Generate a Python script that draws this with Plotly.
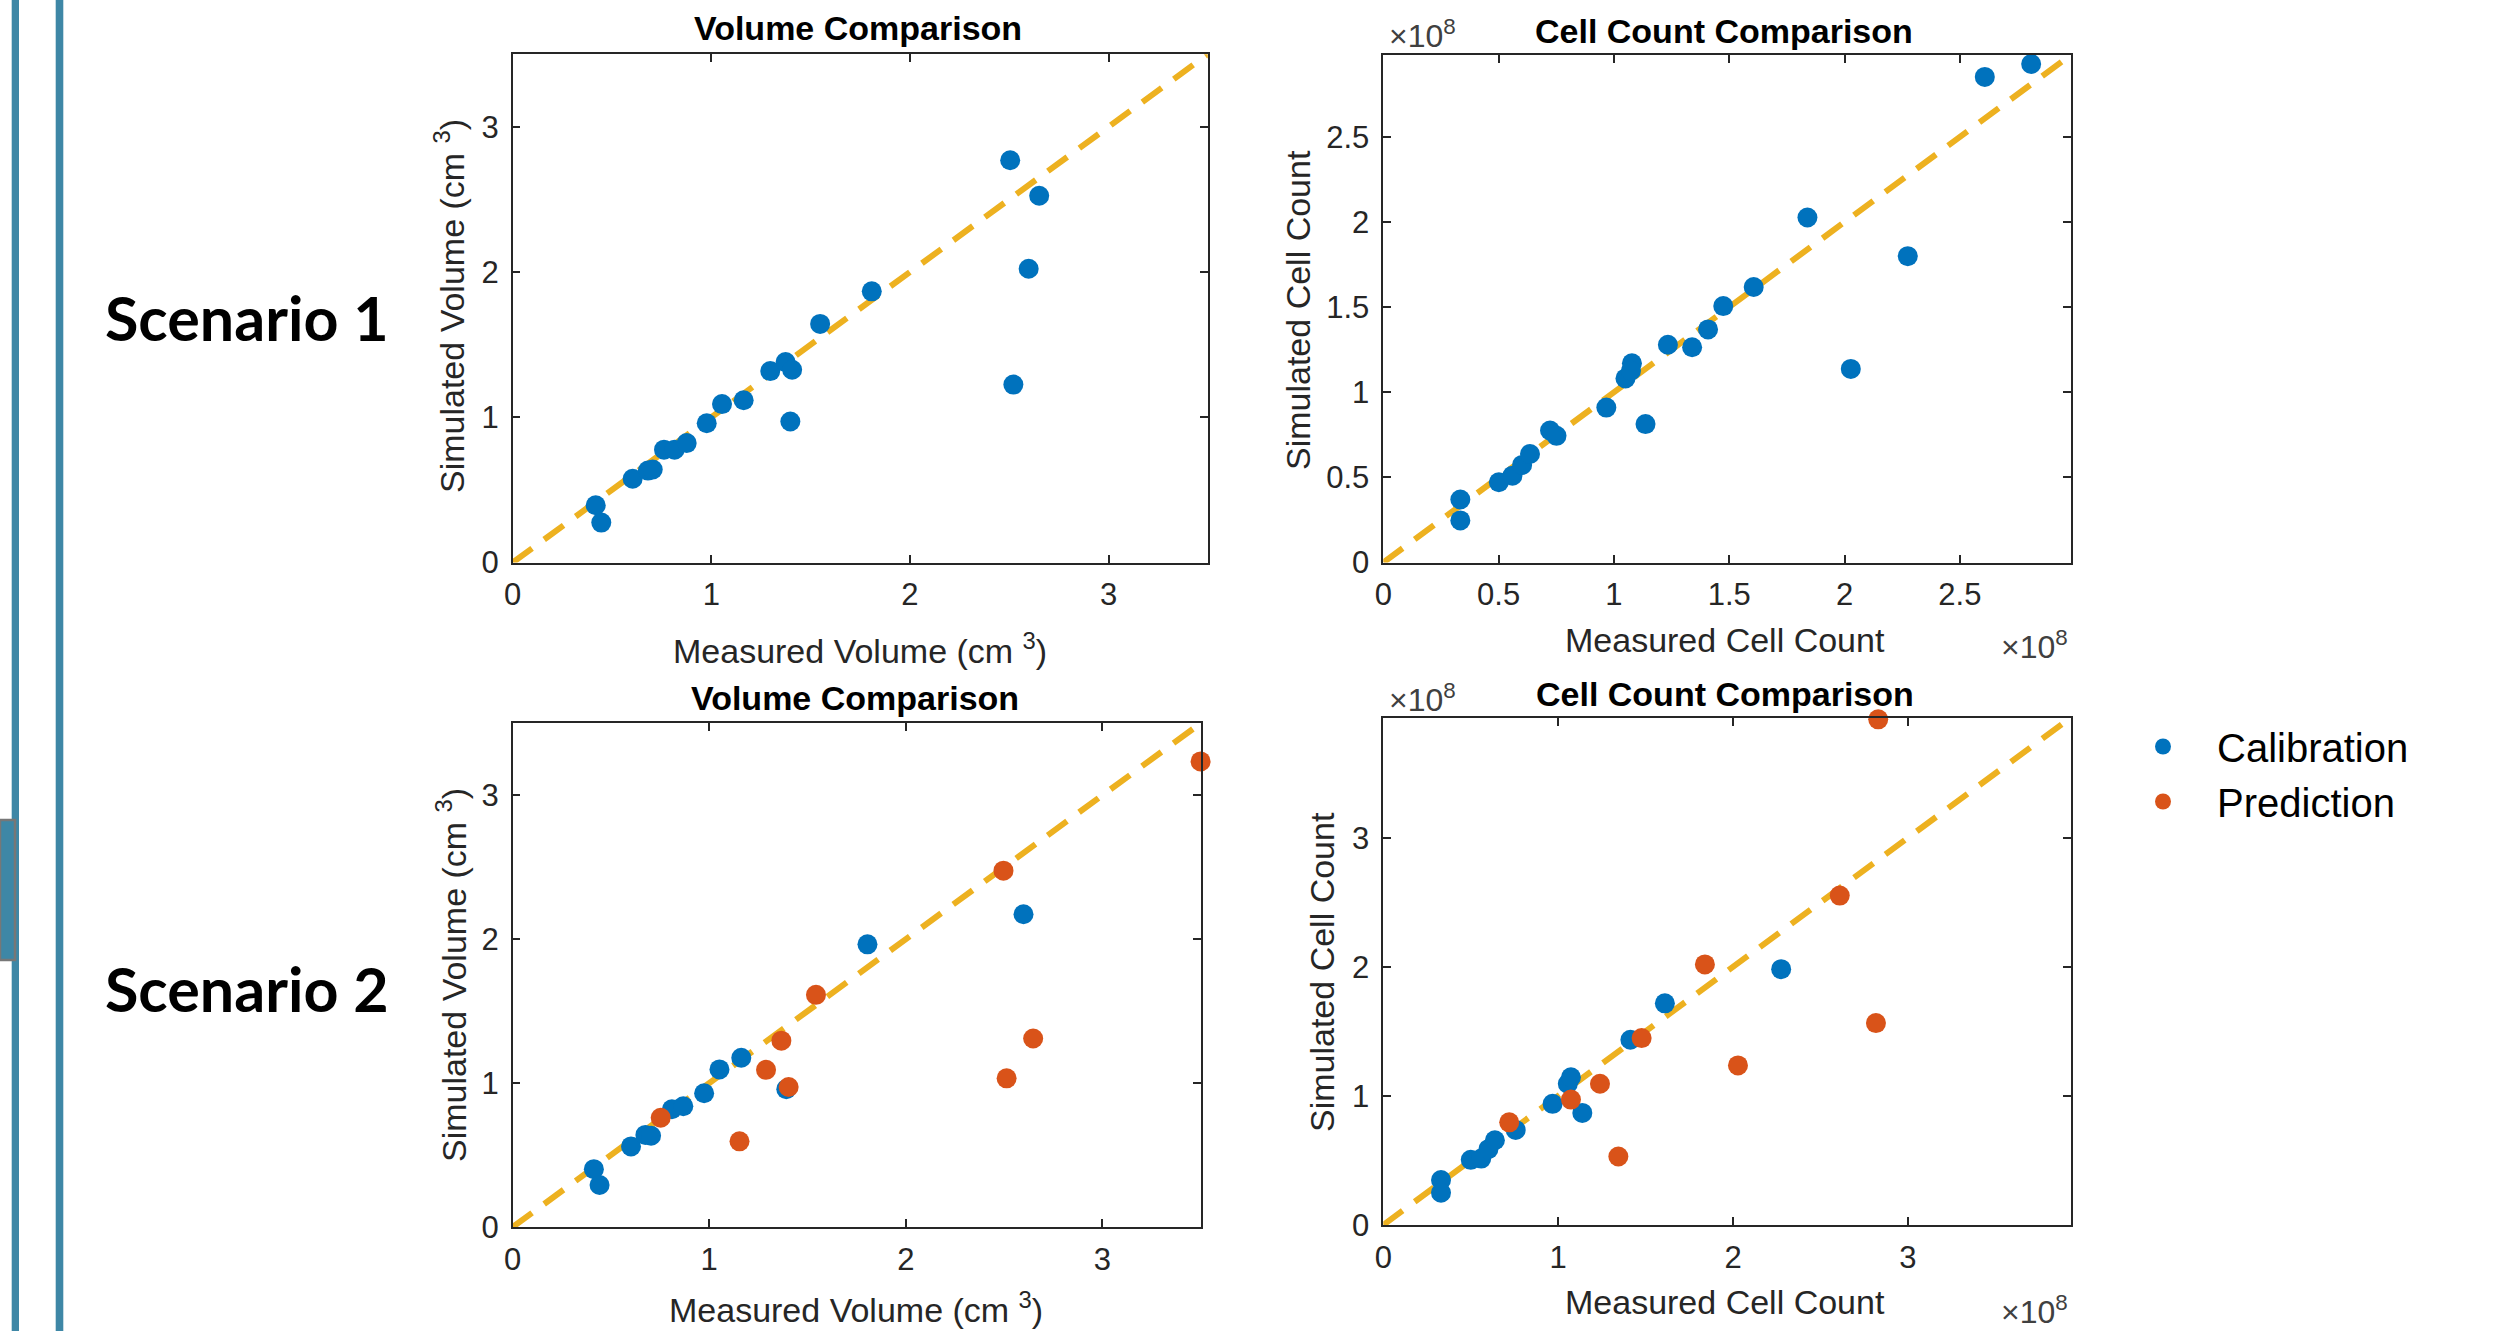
import plotly.graph_objects as go

W, H = 2509, 1331

# ---------------- data ----------------
# Scenario 1 - Volume (cm^3), calibration only
s1_vol_meas = [0.418, 0.446, 0.604, 0.681, 0.705, 0.762, 0.815, 0.876, 0.977, 1.054, 1.163,
               1.297, 1.374, 1.407, 1.398, 1.548, 1.808, 2.505, 2.521, 2.598, 2.651, 3.502]
s1_vol_sim = [0.394, 0.275, 0.577, 0.633, 0.640, 0.777, 0.777, 0.822, 0.959, 1.091, 1.117,
              1.318, 1.380, 1.327, 0.971, 1.643, 1.867, 2.770, 1.225, 2.023, 2.525, 3.191]

# Scenario 1 - Cell count (x1e8), calibration only
s1_cell_meas = [0.334, 0.334, 0.501, 0.560, 0.602, 0.636, 0.723, 0.751, 0.967, 1.050, 1.078,
                1.074, 1.137, 1.234, 1.339, 1.408, 1.474, 1.606, 1.839, 2.027, 2.274, 2.608,
                2.809, 2.827]
s1_cell_sim = [0.370, 0.247, 0.471, 0.510, 0.573, 0.637, 0.775, 0.744, 0.910, 1.081, 1.170,
               1.126, 0.813, 1.279, 1.264, 1.369, 1.506, 1.618, 2.026, 1.137, 1.799, 2.852,
               2.928, 2.982]

# Scenario 2 - Volume (cm^3)
s2_vol_cal_meas = [0.413, 0.442, 0.602, 0.675, 0.704, 0.810, 0.868, 0.974, 1.052, 1.163, 1.392, 1.805, 2.599]
s2_vol_cal_sim = [0.402, 0.292, 0.560, 0.640, 0.634, 0.818, 0.839, 0.929, 1.095, 1.176, 0.958, 1.964, 2.173]
s2_vol_pred_meas = [0.753, 1.154, 1.289, 1.367, 1.404, 1.543, 2.497, 2.513, 2.648, 3.500]
s2_vol_pred_sim = [0.759, 0.595, 1.092, 1.295, 0.973, 1.613, 2.476, 1.033, 1.310, 3.235]

# Scenario 2 - Cell count (x1e8)
s2_cell_cal_meas = [0.330, 0.330, 0.500, 0.560, 0.601, 0.638, 0.757, 0.968, 1.055, 1.073, 1.138, 1.413, 1.610, 2.275]
s2_cell_cal_sim = [0.348, 0.249, 0.504, 0.514, 0.587, 0.656, 0.736, 0.938, 1.094, 1.144, 0.868, 1.435, 1.717, 1.982]
s2_cell_pred_meas = [0.720, 1.073, 1.239, 1.344, 1.477, 1.839, 2.028, 2.610, 2.817, 2.830]
s2_cell_pred_sim = [0.795, 0.971, 1.094, 0.530, 1.448, 2.019, 1.236, 2.552, 1.564, 3.918]

# axis limits and ticks
vol_max = 3.5
cell1_max = 2.98
cell2_max = 3.93
vol_ticks = [0, 1, 2, 3]
vol_ticklabels = ["0", "1", "2", "3"]
cell1_ticks = [0, 0.5, 1, 1.5, 2, 2.5]
cell1_ticklabels = ["0", "0.5", "1", "1.5", "2", "2.5"]
cell2_ticks = [0, 1, 2, 3]
cell2_ticklabels = ["0", "1", "2", "3"]

# ---------------- style ----------------
BLUE = "#0072BD"
ORANGE = "#D95319"
YELLOW = "#EDB120"
AXC = "#262626"
FONT = "Liberation Sans, Arial, sans-serif"
MS = 20


def px(x):
    return x / W


def py(y):
    return 1 - y / H


boxes = {
    1: (512.7, 1207.8, 54.2, 562.5),
    2: (1383.3, 2070.6, 55.1, 562.5),
    3: (512.7, 1200.6, 723.3, 1227.0),
    4: (1383.3, 2070.6, 717.8, 1224.9),
}

fig = go.Figure()


def add_points(n, xs, ys, color, name, showlegend):
    fig.add_trace(go.Scatter(
        x=xs, y=ys, mode="markers", name=name, legendgroup=name,
        showlegend=showlegend, cliponaxis=False,
        marker=dict(color=color, size=MS, line=dict(width=0)),
        xaxis="x" if n == 1 else f"x{n}", yaxis="y" if n == 1 else f"y{n}"))


def add_identity(n, vmax):
    fig.add_trace(go.Scatter(
        x=[0, vmax], y=[0, vmax], mode="lines", showlegend=False, hoverinfo="skip",
        cliponaxis=False,
        line=dict(color=YELLOW, width=6, dash="24px,15px"),
        xaxis="x" if n == 1 else f"x{n}", yaxis="y" if n == 1 else f"y{n}"))


add_identity(1, vol_max)
add_points(1, s1_vol_meas, s1_vol_sim, BLUE, "Calibration", False)
add_identity(2, cell1_max)
add_points(2, s1_cell_meas, s1_cell_sim, BLUE, "Calibration", False)
add_identity(3, vol_max)
add_points(3, s2_vol_cal_meas, s2_vol_cal_sim, BLUE, "Calibration", False)
add_points(3, s2_vol_pred_meas, s2_vol_pred_sim, ORANGE, "Prediction", False)
add_identity(4, cell2_max)
add_points(4, s2_cell_cal_meas, s2_cell_cal_sim, BLUE, "Calibration", True)
add_points(4, s2_cell_pred_meas, s2_cell_pred_sim, ORANGE, "Prediction", True)

ranges = {1: vol_max, 2: cell1_max, 3: vol_max, 4: cell2_max}
ticks = {1: (vol_ticks, vol_ticklabels), 2: (cell1_ticks, cell1_ticklabels),
         3: (vol_ticks, vol_ticklabels), 4: (cell2_ticks, cell2_ticklabels)}

layout = {}
for n, (x0, x1, y0, y1) in boxes.items():
    xa = "xaxis" if n == 1 else f"xaxis{n}"
    ya = "yaxis" if n == 1 else f"yaxis{n}"
    tv, tt = ticks[n]
    common = dict(showgrid=False, zeroline=False, showline=True, linecolor=AXC, linewidth=1.5,
                  mirror="ticks", ticks="inside", ticklen=8, tickwidth=1.5, tickcolor=AXC,
                  tickvals=tv, ticktext=tt, range=[0, ranges[n]], automargin=False,
                  tickfont=dict(family=FONT, size=31, color=AXC), fixedrange=True)
    layout[xa] = dict(domain=[px(x0), px(x1)], anchor="y" if n == 1 else f"y{n}",
                      ticklabelstandoff=4, **common)
    layout[ya] = dict(domain=[py(y1), py(y0)], anchor="x" if n == 1 else f"x{n}",
                      ticklabelstandoff=6, **common)

annotations = []


def ann(text, x, y, size, color="black", bold=False, angle=0, xanchor="center", family=FONT):
    annotations.append(dict(
        text=f"<b>{text}</b>" if bold else text, x=px(x), y=py(y), xref="paper", yref="paper",
        showarrow=False, xanchor=xanchor, yanchor="middle", textangle=angle,
        font=dict(family=family, size=size, color=color)))


# titles
ann("Volume Comparison", 858, 28, 34, bold=True)
ann("Cell Count Comparison", 1724, 31, 34, bold=True)
ann("Volume Comparison", 855, 698, 34, bold=True)
ann("Cell Count Comparison", 1725, 694, 34, bold=True)
# axis titles
ann("Measured Volume (cm <sup>3</sup>)", 860, 648, 34, color=AXC)
ann("Measured Cell Count", 1725, 640, 34, color=AXC)
ann("Measured Volume (cm <sup>3</sup>)", 856, 1307, 34, color=AXC)
ann("Measured Cell Count", 1725, 1302, 34, color=AXC)
ann("Simulated Volume (cm <sup>3</sup>)", 449, 306, 34, color=AXC, angle=-90)
ann("Simulated Cell Count", 1298, 310, 34, color=AXC, angle=-90)
ann("Simulated Volume (cm <sup>3</sup>)", 451, 975, 34, color=AXC, angle=-90)
ann("Simulated Cell Count", 1322, 972, 34, color=AXC, angle=-90)
# exponent labels
ann("×10<sup>8</sup>", 1422, 34, 32, color="#404040")
ann("×10<sup>8</sup>", 2034, 645, 32, color="#404040")
ann("×10<sup>8</sup>", 1422, 698, 32, color="#404040")
ann("×10<sup>8</sup>", 2034, 1310, 32, color="#404040")
# scenario labels
ann("Scenario 1", 247, 317, 61, bold=True, family="Lato, Noto Sans, sans-serif")
ann("Scenario 2", 247, 988, 61, bold=True, family="Lato, Noto Sans, sans-serif")

# decorative slide bars on the left
SLIDE = "#3E87A6"
shapes = [
    dict(type="rect", xref="paper", yref="paper", x0=px(11.7), x1=px(19), y0=0, y1=1,
         fillcolor=SLIDE, line=dict(width=0), layer="below"),
    dict(type="rect", xref="paper", yref="paper", x0=px(55.7), x1=px(63.3), y0=0, y1=1,
         fillcolor=SLIDE, line=dict(width=0), layer="below"),
    dict(type="rect", xref="paper", yref="paper", x0=0, x1=px(15), y0=py(960), y1=py(820),
         fillcolor=SLIDE, line=dict(width=2.5, color="#777777"), layer="above"),
]

fig.update_layout(
    width=W, height=H, margin=dict(l=0, r=0, t=0, b=0, pad=0, autoexpand=False),
    paper_bgcolor="white", plot_bgcolor="white",
    annotations=annotations, shapes=shapes,
    legend=dict(x=px(2109), y=py(714), xanchor="left", yanchor="top",
                font=dict(family=FONT, size=40, color="black"),
                itemwidth=98, bgcolor="rgba(0,0,0,0)", tracegroupgap=0),
    showlegend=True,
    **layout,
)

fig.write_html("out.html", config={"displayModeBar": False},
               post_script="document.body.style.margin='0';document.body.style.overflow='hidden';")
